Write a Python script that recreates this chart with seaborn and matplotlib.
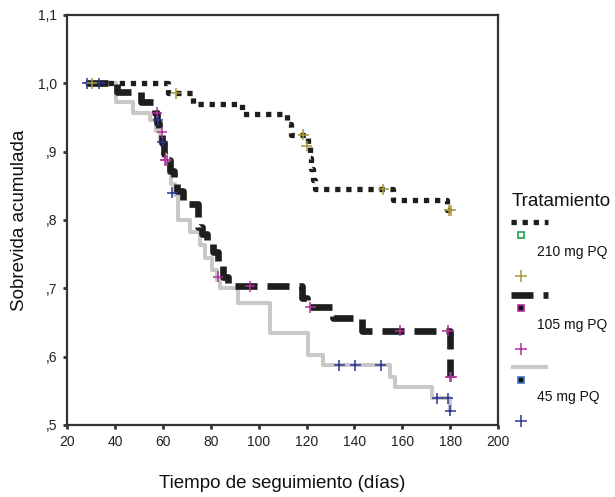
import pandas as pd
import matplotlib
matplotlib.use("Agg")
import matplotlib.pyplot as plt
import seaborn as sns
from matplotlib.lines import Line2D

# step curves (time where the new survival value starts, survival)
t210 = [28, 62, 72.5, 93, 112, 113.5, 120.5, 121.3, 122, 122.7, 123.5, 156, 178.7, 180]
s210 = [1.0, 0.985, 0.970, 0.955, 0.940, 0.925, 0.908, 0.891, 0.874, 0.858, 0.845, 0.829, 0.814, 0.814]

t105 = [28, 41, 51, 56.8, 57.5, 58.5, 59.5, 60.5, 61.5, 63, 64.5, 66, 68.5, 74.7, 76.4,
        78.5, 81, 83, 85, 87, 118, 120, 131, 143, 180]
s105 = [1.0, 0.987, 0.972, 0.957, 0.942, 0.928, 0.912, 0.897, 0.887, 0.872, 0.858, 0.843, 0.824, 0.790, 0.780,
        0.767, 0.753, 0.734, 0.717, 0.703, 0.686, 0.672, 0.656, 0.638, 0.570]

t45 = [28, 40.5, 47.6, 54.7, 57, 59, 60.5, 61.5, 62.5, 63.5, 65, 66.4, 71.4, 75.5, 77.6,
       80.5, 82.5, 84, 91.4, 104.8, 120.7, 127, 155, 157, 172.5, 180]
s45 = [1.0, 0.972, 0.957, 0.946, 0.930, 0.914, 0.898, 0.884, 0.868, 0.852, 0.836, 0.800, 0.782, 0.763, 0.744,
       0.726, 0.712, 0.700, 0.678, 0.634, 0.602, 0.587, 0.570, 0.555, 0.539, 0.521]

# censored observations
c210_t = [30.4, 65.5, 118.6, 120, 152, 179.5, 180.2]
c210_s = [1.0, 0.985, 0.925, 0.908, 0.845, 0.814, 0.814]
c105_t = [57.6, 59.7, 61, 61.6, 83, 96.4, 121.5, 159, 179, 180, 180.4]
c105_s = [0.957, 0.928, 0.887, 0.887, 0.717, 0.703, 0.672, 0.638, 0.638, 0.570, 0.570]
c45_t = [28.4, 33.4, 58, 60, 64, 133.7, 140.3, 151, 174.6, 179, 180]
c45_s = [1.0, 1.0, 0.946, 0.914, 0.84, 0.587, 0.587, 0.587, 0.539, 0.539, 0.521]

grupos = ["45 mg PQ", "105 mg PQ", "210 mg PQ"]

curvas = pd.concat([
    pd.DataFrame({"t": t45, "s": s45, "grupo": "45 mg PQ"}),
    pd.DataFrame({"t": t105, "s": s105, "grupo": "105 mg PQ"}),
    pd.DataFrame({"t": t210, "s": s210, "grupo": "210 mg PQ"}),
])
censura = pd.concat([
    pd.DataFrame({"t": c45_t, "s": c45_s, "grupo": "45 mg PQ"}),
    pd.DataFrame({"t": c105_t, "s": c105_s, "grupo": "105 mg PQ"}),
    pd.DataFrame({"t": c210_t, "s": c210_s, "grupo": "210 mg PQ"}),
])

sns.set_style("white")
plt.rcParams["font.family"] = ["Liberation Sans", "DejaVu Sans"]

fig = plt.figure(figsize=(6.15, 4.97), dpi=100)
ax = fig.add_axes([0.109, 0.145, 0.701, 0.825])

line_col = {"45 mg PQ": "#c8c8c8", "105 mg PQ": "#1e1e1e", "210 mg PQ": "#1e1e1e"}
dashes = {"45 mg PQ": "", "105 mg PQ": (3.3, 1.5), "210 mg PQ": (1, 1.1)}
widths = {"45 mg PQ": 2.9, "105 mg PQ": 4.8, "210 mg PQ": 3.8}
sns.lineplot(data=curvas, x="t", y="s", hue="grupo", style="grupo", size="grupo",
             hue_order=grupos, style_order=grupos, size_order=grupos,
             palette=line_col, dashes=dashes, sizes=widths,
             estimator=None, sort=False, drawstyle="steps-post", legend=False, ax=ax)
for ln in ax.lines:
    ln.set_dash_capstyle("butt")

plus_col = {"45 mg PQ": "#2a3592", "105 mg PQ": "#b0309a", "210 mg PQ": "#a8983a"}
sns.scatterplot(data=censura, x="t", y="s", hue="grupo", hue_order=grupos, palette=plus_col,
                marker="+", s=60, linewidth=1.1, legend=False, ax=ax, zorder=5)

ax.set_xlim(20, 200)
ax.set_ylim(0.5, 1.1)
ax.set_xticks(range(20, 201, 20))
ax.set_yticks([0.5, 0.6, 0.7, 0.8, 0.9, 1.0, 1.1])
ax.set_yticklabels([",5", ",6", ",7", ",8", ",9", "1,0", "1,1"])
ax.tick_params(axis="both", labelsize=10, length=3, width=2, color="#333333",
               direction="out", left=True, bottom=True, pad=4, labelcolor="#222222")
for sp in ax.spines.values():
    sp.set_linewidth(1.6)
    sp.set_color("#333333")
ax.set_xlabel("Tiempo de seguimiento (días)", fontsize=13.5, labelpad=19, color="#111111")
ax.set_ylabel("Sobrevida acumulada", fontsize=13.5, labelpad=7, color="#111111")

# legend drawn at the right side
W, H = 615, 497
def fx(px):
    return px / W
def fy(py):
    return 1 - py / H

fig.text(fx(512), fy(202), "Tratamiento", fontsize=13.5, va="center", ha="left", color="#111111")
items = [
    ("210 mg PQ", 222, dict(color="#1e1e1e", lw=3.8, dashes=(1, 1.1)), "#20a050", "white", "#a8983a"),
    ("105 mg PQ", 295, dict(color="#1e1e1e", lw=4.8, dashes=(3.3, 1.5)), "#b0309a", "#111111", "#b0309a"),
    ("45 mg PQ", 367, dict(color="#c8c8c8", lw=2.9), "#3a78c0", "#111111", "#2a3592"),
]
for lab, y0, lkw, sq_edge, sq_face, pcol in items:
    ln = Line2D([fx(511), fx(548)], [fy(y0), fy(y0)], transform=fig.transFigure,
                solid_capstyle="butt", dash_capstyle="butt", **lkw)
    fig.add_artist(ln)
    fig.add_artist(Line2D([fx(521)], [fy(y0 + 13)], transform=fig.transFigure, marker="s",
                          markersize=4.5, markerfacecolor=sq_face, markeredgecolor=sq_edge,
                          markeredgewidth=1.2, linestyle="none"))
    fig.text(fx(537), fy(y0 + 30), lab, fontsize=10, va="center", ha="left", color="#111111")
    fig.add_artist(Line2D([fx(521)], [fy(y0 + 54)], transform=fig.transFigure, marker="+",
                          markersize=8, markeredgecolor=pcol, markeredgewidth=1.1, linestyle="none"))

fig.savefig("out.png", dpi=100)
